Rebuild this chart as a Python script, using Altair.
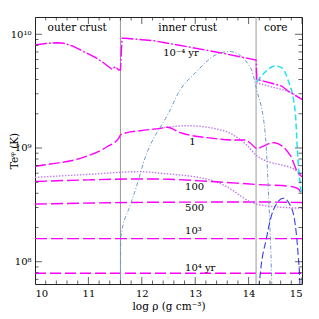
import altair as alt
import pandas as pd

# ---------------- data (log10 rho, log10 T) ----------------
rho_e4 = [10.0, 10.2, 10.415, 10.538, 10.7, 10.85, 11.0, 11.163, 11.3, 11.443, 11.505, 11.566, 11.6,
          11.63, 11.69, 12.22, 12.845, 13.467, 14.14, 14.153, 14.62, 14.757, 15.0]
lgT_e4 = [9.906, 9.919, 9.926, 9.921, 9.897, 9.862, 9.827, 9.789, 9.743, 9.692, 9.715, 9.686, 9.686,
          9.965, 9.965, 9.944, 9.891, 9.838, 9.774, 9.604, 9.545, 9.495, 9.428]

rho_e4_dot = [14.14, 14.45, 14.757, 15.0]
lgT_e4_dot = [9.574, 9.535, 9.493, 9.43]

rho_cyan = [14.153, 14.31, 14.495, 14.626, 14.738, 14.87, 14.925, 14.994]
lgT_cyan = [9.583, 9.668, 9.721, 9.704, 9.598, 9.334, 8.894, 8.587]

rho_steel = [11.598, 11.607, 11.785, 11.91, 12.03, 12.53, 12.68, 13.0, 13.467, 13.65, 14.03, 14.153,
             14.31, 14.37, 14.434, 14.45]
lgT_steel = [7.5, 8.217, 8.499, 8.675, 8.868, 9.334, 9.481, 9.66, 9.836, 9.848, 9.712, 9.51,
             9.132, 8.63, 7.81, 7.5]

rho_blue = [14.19, 14.202, 14.34, 14.464, 14.65, 14.776, 14.87, 14.93, 14.96, 14.97]
lgT_blue = [7.5, 7.804, 8.22, 8.455, 8.558, 8.499, 8.338, 8.044, 7.80, 7.6]

rho_1 = [10.0, 10.29, 10.85, 11.35, 11.566, 11.6, 11.72, 11.97, 12.346, 12.477, 12.72, 13.337,
         13.71, 13.935, 14.03, 14.153, 14.464, 14.776, 14.93, 15.0]
lgT_1 = [8.84, 8.859, 8.909, 9.011, 9.085, 9.114, 9.135, 9.152, 9.173, 9.182, 9.135, 9.085,
         9.070, 9.070, 9.044, 8.997, 9.047, 8.938, 8.778, 8.748]

rho_1_dot = [12.35, 12.477, 12.845, 13.342, 13.654, 13.966, 14.14, 14.963, 15.0]
lgT_1_dot = [9.173, 9.182, 9.196, 9.173, 9.129, 9.026, 8.938, 8.778, 8.748]

rho_100 = [10.0, 11.0, 12.0, 12.5, 13.3, 14.2, 14.8, 14.93, 15.0]
lgT_100 = [8.705, 8.72, 8.728, 8.725, 8.705, 8.678, 8.662, 8.64, 8.59]

rho_100_dot = [10.0, 11.0, 11.97, 12.346, 13.28, 13.59, 14.03, 14.215, 15.0]
lgT_100_dot = [8.742, 8.768, 8.792, 8.778, 8.719, 8.66, 8.528, 8.499, 8.47]

rho_500 = [10.0, 12.35, 14.2, 15.0]
lgT_500 = [8.507, 8.523, 8.525, 8.52]

rho_1e3 = [10.0, 15.0]
lgT_1e3 = [8.203, 8.203]

rho_1e4 = [10.0, 15.0]
lgT_1e4 = [7.898, 7.898]

boundaries = [11.6, 14.14]

region_text = ["outer crust", "inner crust", "core"]
region_x = [10.79, 12.86, 14.51]

label_text = ["10⁻⁴ yr", "1", "100", "500", "10³", "10⁴ yr"]
label_x = [12.40, 12.89, 12.81, 12.81, 12.81, 12.81]
label_lgT = [9.832, 9.053, 8.657, 8.475, 8.27, 7.944]

x_major = [10, 11, 12, 13, 14, 15]
x_minor = [round(10 + 0.2 * i, 1) for i in range(26) if i % 5 != 0]
y_major = [1e8, 1e9, 1e10]
y_minor = [k * 10 ** n for n in (7, 8, 9) for k in range(2, 10) if k * 10 ** n > 6.4e7]

# ---------------- chart ----------------
W = H = 267
FONT = "DejaVu Serif"
xscale = alt.Scale(domain=[10, 15], nice=False, zero=False)
yscale = alt.Scale(type="log", domain=[10 ** 7.804, 10 ** 10.152], nice=False)

XA = alt.Axis(values=x_major, format="d", ticks=False, domain=False, grid=False,
              labelFont=FONT, labelFontSize=10, labelPadding=4, labelColor="black",
              title="log ρ  (g cm⁻³)", titleFont=FONT, titleFontSize=10.5,
              titleFontWeight="normal", titlePadding=3, titleColor="black")
YA = alt.Axis(values=y_major, ticks=False, domain=False, grid=False,
              labelExpr="datum.value > 5e9 ? '10¹⁰' : (datum.value > 5e8 ? '10⁹' : '10⁸')",
              labelFont=FONT, labelFontSize=10, labelPadding=4, labelColor="black",
              title="Teᵠ (K)", titleFont=FONT, titleFontSize=10.5, titleFontWeight="normal",
              titleColor="black", titleX=-21, titleY=H / 2, titleAngle=270,
              titleAlign="center", titleBaseline="middle")


def df(rho, lg):
    return pd.DataFrame({"rho": rho, "T": [10 ** v for v in lg]})


def X(field):
    return alt.X(field, scale=xscale, axis=XA)


def Y(field):
    return alt.Y(field, scale=yscale, axis=YA)


def curve(rho, lg, color, dash, width=1.4, interp="monotone"):
    return alt.Chart(df(rho, lg)).mark_line(
        color=color, strokeDash=dash, strokeWidth=width, interpolate=interp, clip=True
    ).encode(x=X("rho:Q"), y=Y("T:Q"), order=alt.Order("rho:Q"))


MAG = "#ff00ff"
LAV = "#c27cf2"
CYAN = "#1ee4f4"
STEEL = "#6d9bcc"
BLUE = "#3b3bee"

rules = alt.Chart(pd.DataFrame({"rho": boundaries})).mark_rule(color="#9a9a9a", strokeWidth=1).encode(
    x=X("rho:Q")
)

layers = [
    curve(rho_1e4, lgT_1e4, MAG, [11, 4], interp="linear"),
    rules,
    curve(rho_1e3, lgT_1e3, MAG, [12, 4], interp="linear"),
    curve(rho_500, lgT_500, MAG, [12, 4]),
    curve(rho_100_dot, lgT_100_dot, LAV, [1.5, 1.5]),
    curve(rho_100, lgT_100, MAG, [12, 4]),
    curve(rho_1_dot, lgT_1_dot, LAV, [1.5, 1.5]),
    curve(rho_1, lgT_1, MAG, [11, 3]),
    curve(rho_steel, lgT_steel, STEEL, [4, 2, 1, 2], width=1),
    curve(rho_blue, lgT_blue, BLUE, [7, 3], width=1.1),
    curve(rho_cyan, lgT_cyan, CYAN, [6, 3], width=1.5),
    curve(rho_e4_dot, lgT_e4_dot, LAV, [1.5, 1.5]),
    curve(rho_e4, lgT_e4, MAG, [12, 2, 2, 2], interp="linear"),
]

# region labels
layers.append(
    alt.Chart(pd.DataFrame({"t": region_text, "rho": region_x})).mark_text(
        font=FONT, fontSize=10.5, color="black", baseline="middle", align="center"
    ).encode(x=X("rho:Q"), y=alt.value(11), text="t:N")
)

# curve labels
layers.append(
    alt.Chart(pd.DataFrame({"t": label_text, "rho": label_x, "T": [10 ** v for v in label_lgT]})).mark_text(
        font=FONT, fontSize=10, color="black", baseline="middle", align="left"
    ).encode(x=X("rho:Q"), y=Y("T:Q"), text="t:N")
)


# inward ticks on all four sides
def xticks(vals, size, ypix):
    return alt.Chart(pd.DataFrame({"rho": vals})).mark_tick(
        orient="vertical", size=size, thickness=1, color="#222", clip=True
    ).encode(x=X("rho:Q"), y=alt.value(ypix))


def yticks(vals, size, xpix):
    return alt.Chart(pd.DataFrame({"T": vals})).mark_tick(
        orient="horizontal", size=size, thickness=1, color="#222", clip=True
    ).encode(y=Y("T:Q"), x=alt.value(xpix))


for pos in (0, H):
    layers.append(xticks(x_major, 14, pos))
    layers.append(xticks(x_minor, 7, pos))
for pos in (0, W):
    layers.append(yticks(y_major, 14, pos))
    layers.append(yticks(y_minor, 7, pos))

chart = alt.layer(*layers).properties(
    width=W, height=H,
    autosize=alt.AutoSizeParams(type="none"),
    padding={"left": 27, "top": 9, "right": 8, "bottom": 34},
).configure_view(stroke="#222", strokeWidth=1)

chart.save("out.html", embed_options={"renderer": "svg", "actions": False})
